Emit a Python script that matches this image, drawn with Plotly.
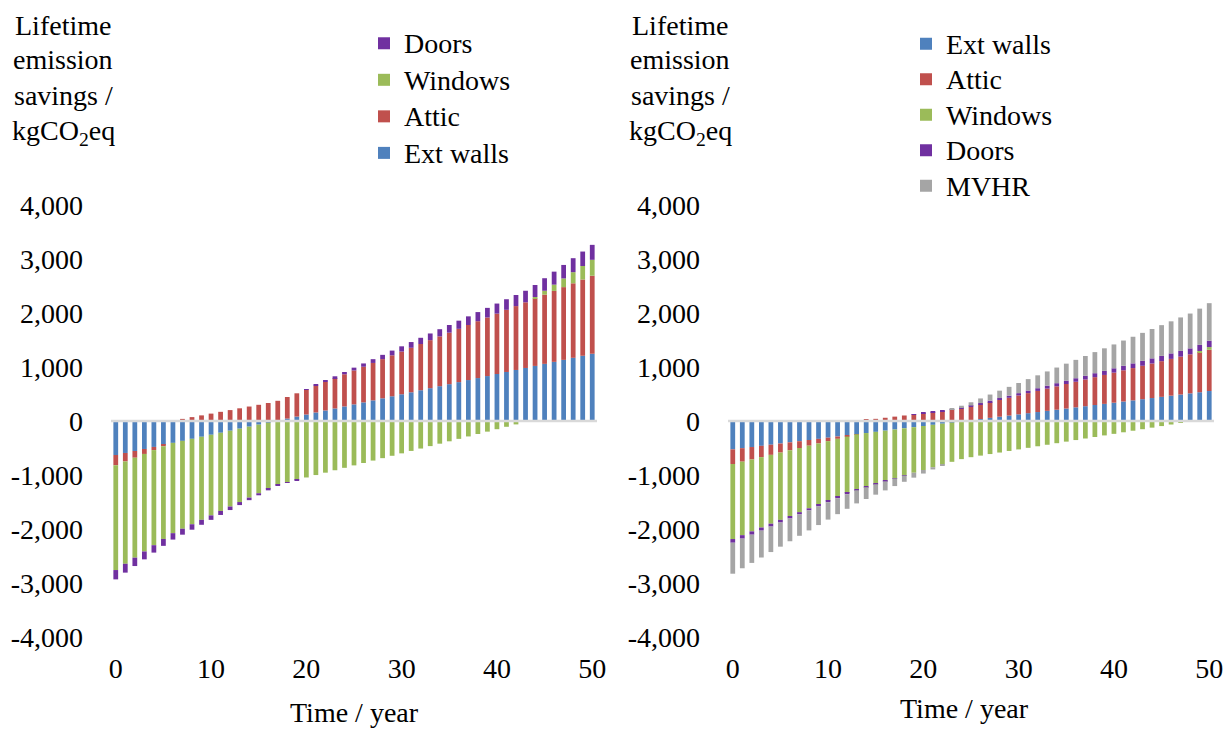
import plotly.graph_objects as go

years = list(range(51))

# Left panel: fabric measures (kgCO2eq lifetime savings per year of operation)
left_ext_walls = [-630, -592, -555, -518, -480, -442, -405, -368, -330, -292,
                  -255, -218, -180, -142, -105, -68, -30, 8, 45, 82,
                  120, 158, 195, 232, 270, 308, 345, 382, 420, 458,
                  495, 532, 570, 608, 645, 682, 720, 758, 795, 832,
                  870, 908, 945, 982, 1020, 1058, 1095, 1132, 1170, 1208, 1245]
left_attic = [-190, -157, -125, -92, -59, -26, 6, 39, 72, 104,
              137, 170, 202, 235, 268, 300, 333, 366, 399, 431,
              464, 497, 529, 562, 595, 628, 660, 693, 726, 758,
              791, 824, 856, 889, 922, 954, 987, 1020, 1053, 1085,
              1118, 1151, 1183, 1216, 1249, 1282, 1314, 1347, 1380, 1412, 1445]
left_windows = [-1940, -1895, -1851, -1806, -1761, -1716, -1672, -1627, -1582, -1538,
                -1493, -1448, -1404, -1359, -1314, -1270, -1225, -1180, -1135, -1091,
                -1046, -1001, -957, -912, -867, -822, -778, -733, -688, -644,
                -599, -554, -510, -465, -420, -376, -331, -286, -241, -197,
                -152, -107, -63, -18, 27, 72, 116, 161, 206, 250, 295]
left_doors = [-173, -164, -155, -146, -137, -128, -119, -110, -101, -92,
              -83, -74, -65, -56, -47, -38, -29, -20, -11, -2,
              7, 16, 25, 34, 43, 52, 61, 70, 79, 88,
              97, 106, 115, 124, 133, 142, 151, 160, 169, 178,
              187, 196, 205, 214, 223, 232, 241, 250, 259, 268, 277]

# Right panel: fabric measures plus MVHR
right_ext_walls = [-525, -503, -482, -460, -439, -417, -395, -374, -352, -331,
                   -309, -287, -266, -244, -223, -201, -179, -158, -136, -115,
                   -93, -71, -50, -28, -7, 15, 37, 58, 80, 101,
                   123, 145, 166, 188, 209, 231, 253, 274, 296, 317,
                   339, 361, 382, 404, 425, 447, 469, 490, 512, 533, 555]
right_attic = [-271, -250, -230, -209, -188, -168, -147, -126, -105, -85,
               -64, -43, -23, -2, 19, 40, 60, 81, 102, 122,
               143, 164, 184, 205, 226, 247, 267, 288, 309, 329,
               350, 371, 391, 412, 433, 454, 474, 495, 516, 536,
               557, 578, 598, 619, 640, 661, 681, 702, 723, 743, 764]
right_windows = [-1390, -1361, -1332, -1304, -1275, -1246, -1217, -1188, -1160, -1131,
                 -1102, -1073, -1044, -1016, -987, -958, -929, -900, -872, -843,
                 -814, -785, -756, -728, -699, -670, -641, -612, -584, -555,
                 -526, -497, -468, -440, -411, -382, -353, -324, -296, -267,
                 -238, -209, -180, -152, -123, -94, -65, -36, -8, 21, 50]
right_doors = [-68, -64, -61, -57, -53, -49, -46, -42, -38, -35,
               -31, -27, -24, -20, -16, -12, -9, -5, -1, 2,
               6, 10, 13, 17, 21, 24, 28, 32, 36, 39,
               43, 47, 50, 54, 58, 62, 65, 69, 73, 76,
               80, 84, 87, 91, 95, 98, 102, 106, 110, 113, 117]
right_mvhr = [-574, -549, -523, -498, -472, -447, -422, -396, -371, -345,
              -320, -295, -269, -244, -218, -193, -168, -142, -117, -91,
              -66, -41, -15, 10, 36, 61, 86, 112, 137, 163,
              188, 213, 239, 264, 290, 315, 340, 366, 391, 417,
              442, 467, 493, 518, 544, 569, 594, 620, 645, 671, 696]

y_ticks = [-4000, -3000, -2000, -1000, 0, 1000, 2000, 3000, 4000]
y_tick_labels = ["-4,000", "-3,000", "-2,000", "-1,000", "0",
                 "1,000", "2,000", "3,000", "4,000"]
x_ticks = [0, 10, 20, 30, 40, 50]

COLORS = {
    "Ext walls": "#4F81BD",
    "Attic": "#C0504D",
    "Windows": "#9BBB59",
    "Doors": "#7030A0",
    "MVHR": "#A5A5A5",
}

FONT = "Liberation Serif"
FS = 28
W, H = 1231, 729


def legend_label(name):
    # legend rows are spaced by the legend font size; the label itself keeps FS
    return f"<span style='font-size:{FS}px'>{name}</span>"


fig = go.Figure()

left_series = [("Ext walls", left_ext_walls), ("Attic", left_attic),
               ("Windows", left_windows), ("Doors", left_doors)]
right_series = [("Ext walls", right_ext_walls), ("Attic", right_attic),
                ("Windows", right_windows), ("Doors", right_doors),
                ("MVHR", right_mvhr)]

for name, vals in left_series:
    fig.add_trace(go.Bar(x=years, y=vals, name=legend_label(name),
                         marker_color=COLORS[name], marker_line_width=0,
                         xaxis="x", yaxis="y", legend="legend"))
for name, vals in right_series:
    fig.add_trace(go.Bar(x=years, y=vals, name=legend_label(name),
                         marker_color=COLORS[name], marker_line_width=0,
                         xaxis="x2", yaxis="y2", legend="legend2"))

# plot-area placement in pixels
y_dom = [1 - 637 / H, 1 - 205 / H]
x1_dom = [111 / W, 597 / W]
x2_dom = [728 / W, 1214 / W]

xaxis_common = dict(range=[-0.5, 50.5], tickvals=x_ticks, ticks="",
                    showgrid=False, zeroline=False, showline=False,
                    tickfont=dict(family=FONT, size=FS, color="black"),
                    ticklabelstandoff=12)
yaxis_common = dict(range=[-4000, 4000], tickvals=y_ticks, ticktext=y_tick_labels,
                    ticks="", showgrid=False, zeroline=False, showline=False,
                    tickfont=dict(family=FONT, size=FS, color="black"),
                    ticklabelstandoff=27)

legend_common = dict(bgcolor="rgba(0,0,0,0)", xanchor="left", yanchor="top",
                     tracegroupgap=0, itemclick=False)

fig.update_layout(
    width=W, height=H,
    margin=dict(l=0, r=0, t=0, b=0, autoexpand=False),
    paper_bgcolor="white", plot_bgcolor="white",
    barmode="relative", bargap=0.5,
    font=dict(family=FONT, size=FS, color="black"),
    xaxis=dict(domain=x1_dom, anchor="y", **xaxis_common),
    yaxis=dict(domain=y_dom, anchor="x", **yaxis_common),
    xaxis2=dict(domain=x2_dom, anchor="y2", **xaxis_common),
    yaxis2=dict(domain=y_dom, anchor="x2", **yaxis_common),
    legend=dict(x=364 / W, y=1 - 20 / H, traceorder="reversed",
                font=dict(family=FONT, size=25.8, color="black"),
                **legend_common),
    legend2=dict(x=906 / W, y=1 - 21 / H, traceorder="normal",
                 font=dict(family=FONT, size=25, color="black"),
                 **legend_common),
)

# horizontal axis lines at zero, drawn over the bars
for xr, yr in [("x domain", "y"), ("x2 domain", "y2")]:
    fig.add_shape(type="line", xref=xr, yref=yr, x0=0, x1=1, y0=0, y1=0,
                  line=dict(color="#D9D9D9", width=2.5), layer="above")

# y-axis title, one line per annotation to keep the tight line spacing
ytitle_lines = [("Lifetime", 25), ("emission", 60), ("savings /", 95),
                ("kgCO<sub>2</sub>eq", 132)]
for cx in [63, 680]:
    for txt, cy in ytitle_lines:
        fig.add_annotation(text=txt, xref="paper", yref="paper",
                           x=cx / W, y=1 - cy / H, xanchor="center",
                           yanchor="middle", showarrow=False,
                           font=dict(family=FONT, size=FS, color="black"))

for cx, cy in [(354, 712), (964, 708)]:
    fig.add_annotation(text="Time / year", xref="paper", yref="paper",
                       x=cx / W, y=1 - cy / H, xanchor="center", yanchor="middle",
                       showarrow=False,
                       font=dict(family=FONT, size=FS, color="black"))

fig.write_html("out.html")
